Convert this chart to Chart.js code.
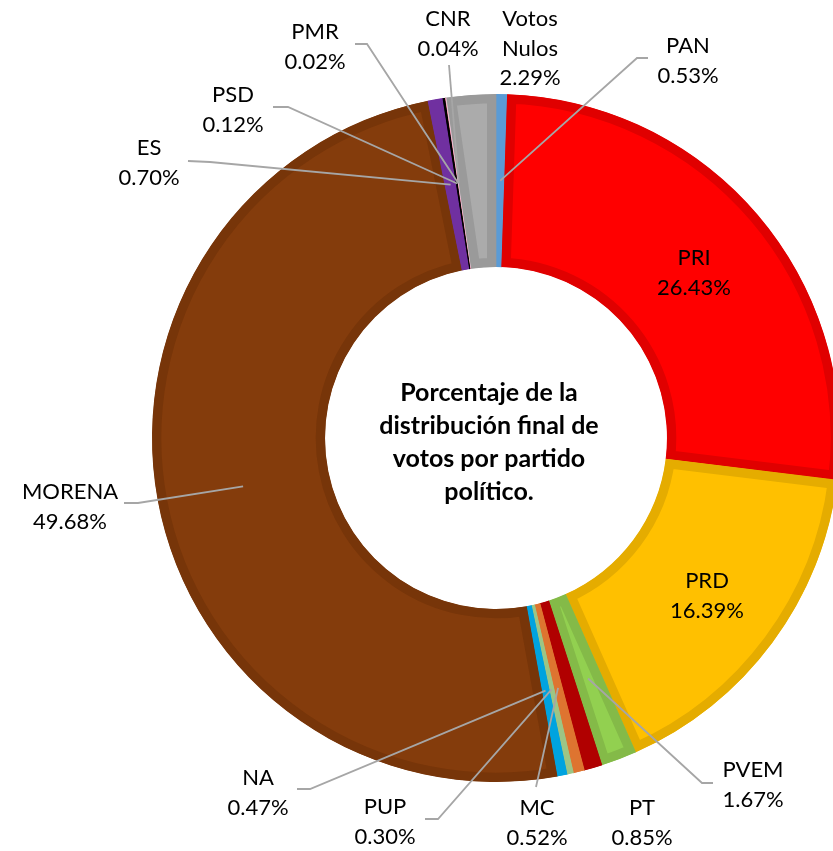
<!DOCTYPE html>
<html>
<head>
<meta charset="utf-8">
<script src="https://cdn.jsdelivr.net/npm/chart.js@4/dist/chart.umd.min.js"></script>
<style>
  html, body { margin: 0; padding: 0; background: #ffffff; }
  #wrap { width: 833px; height: 851px; position: relative; }
</style>
</head>
<body>
<div id="wrap"><canvas id="c" width="833" height="851"></canvas></div>
<script>
// ---- Data ----
const categories = ['PAN','PRI','PRD','PVEM','PT','MC','PUP','NA','MORENA','ES','PSD','PMR','CNR','Votos Nulos'];
const percentages = [0.53, 26.43, 16.39, 1.67, 0.85, 0.52, 0.30, 0.47, 49.68, 0.70, 0.12, 0.02, 0.04, 2.29];
const centerTitle = ['Porcentaje de la', 'distribución final de', 'votos por partido', 'político.'];

// ---- Styles ----
const fillColors = ['#5B9BD5','#FF0000','#FFC000','#92D050','#B00000','#DE7430','#9DC585','#00A3DF','#843C0C','#7030A0','#000000','#FF7C9C','#E6C8D8','#ABABAB'];
const edgeColors = ['#5B9BD5','#E00000','#E5AC00','#84BA48','#B00000','#DE7430','#9DC585','#00A3DF','#773509','#7030A0','#000000','#FF7C9C','#E6C8D8','#9A9A9A'];

// ---- Label layout (text centres, leader line end + elbow) ----
const labelLayout = {
  'PAN':        { x: 688, y: 45,  end: [648, 58],  elbow: [637, 58] },
  'PRI':        { x: 694, y: 257 },
  'PRD':        { x: 707, y: 580 },
  'PVEM':       { x: 753, y: 769, end: [713, 783], elbow: [702, 783] },
  'PT':         { x: 642, y: 807 },
  'MC':         { x: 537, y: 807, end: [536, 787] },
  'PUP':        { x: 385, y: 806, end: [425, 819], elbow: [438, 819] },
  'NA':         { x: 258, y: 777, end: [297, 789], elbow: [310, 789] },
  'MORENA':     { x: 70,  y: 491, end: [124, 503], elbow: [138, 503] },
  'ES':         { x: 149, y: 147, end: [188, 161], elbow: [210, 162] },
  'PSD':        { x: 233, y: 94,  end: [273, 107], elbow: [288, 107] },
  'PMR':        { x: 315, y: 31,  end: [355, 44],  elbow: [367, 44] },
  'CNR':        { x: 448, y: 18,  end: [449, 65] },
  'Votos Nulos':{ x: 530, y: 18 }
};

const LABEL_FONT = '22px Lato';
const LINE_H = 29.5;

const labelPlugin = {
  id: 'sliceLabels',
  afterDatasetsDraw(chart) {
    const ctx = chart.ctx;
    const meta = chart.getDatasetMeta(0);
    ctx.save();
    ctx.strokeStyle = '#A6A6A6';
    ctx.lineWidth = 1.8;
    meta.data.forEach((arc, i) => {
      const lay = labelLayout[categories[i]];
      if (!lay || !lay.end) return;
      const p = arc.tooltipPosition();
      ctx.beginPath();
      ctx.moveTo(p.x, p.y);
      if (lay.elbow) ctx.lineTo(lay.elbow[0], lay.elbow[1]);
      ctx.lineTo(lay.end[0], lay.end[1]);
      ctx.stroke();
    });
    ctx.fillStyle = '#000000';
    ctx.font = LABEL_FONT;
    ctx.textAlign = 'center';
    ctx.textBaseline = 'middle';
    meta.data.forEach((arc, i) => {
      const name = categories[i];
      const lay = labelLayout[name];
      if (!lay) return;
      const lines = name.split(' ').concat([percentages[i].toFixed(2) + '%']);
      lines.forEach((t, k) => {
        ctx.fillText(t, lay.x, lay.y + 1 + k * LINE_H);
      });
    });
    ctx.restore();
  }
};

const titlePlugin = {
  id: 'centerTitle',
  afterDraw(chart) {
    const ctx = chart.ctx;
    const meta = chart.getDatasetMeta(0);
    const arc = meta.data[0];
    const cx = arc.x - 7, cy = arc.y;
    ctx.save();
    ctx.fillStyle = '#000000';
    ctx.font = 'bold 25px Lato';
    ctx.textAlign = 'center';
    ctx.textBaseline = 'middle';
    const lh = 33;
    const start = cy - lh * (centerTitle.length - 1) / 2 + 4;
    centerTitle.forEach((t, k) => ctx.fillText(t, cx, start + k * lh));
    ctx.restore();
  }
};

new Chart(document.getElementById('c'), {
  type: 'doughnut',
  data: {
    labels: categories,
    datasets: [{
      data: percentages,
      backgroundColor: fillColors,
      borderColor: edgeColors,
      borderWidth: 9,
      borderAlign: 'inner',
      hoverOffset: 0
    }]
  },
  options: {
    responsive: false,
    animation: false,
    radius: 344,
    cutout: '49.7%',
    layout: { padding: { left: 159, top: 25, right: 0, bottom: 0 } },
    plugins: {
      legend: { display: false },
      tooltip: { enabled: false },
      title: { display: false }
    },
    events: []
  },
  plugins: [labelPlugin, titlePlugin]
});
</script>
</body>
</html>
